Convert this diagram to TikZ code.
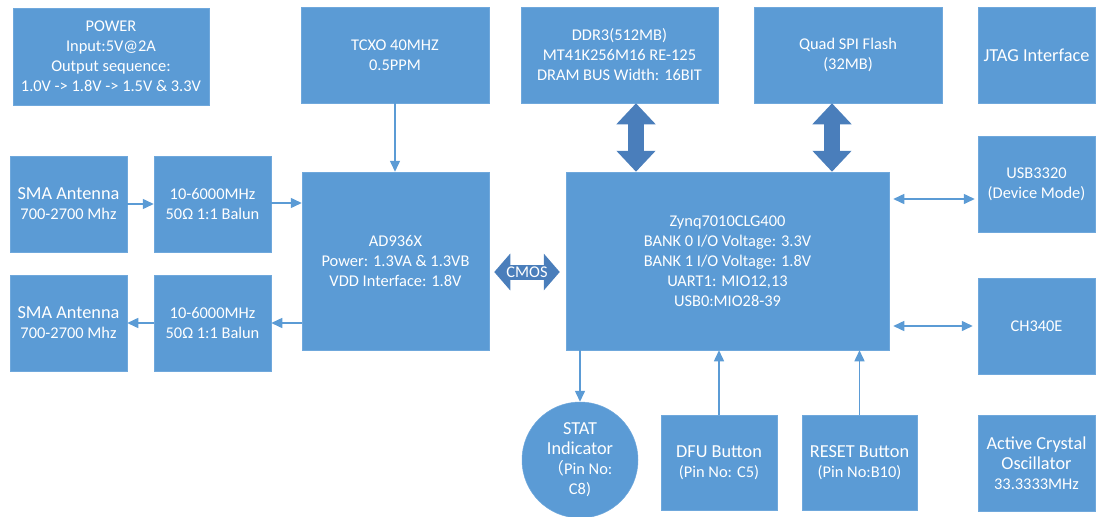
\documentclass[tikz,border=0pt]{standalone}
\usepackage{fontspec}
\setmainfont{Carlito}
\newfontfamily\cjk{Noto Sans CJK SC}
\usetikzlibrary{arrows.meta,calc}
\definecolor{boxblue}{HTML}{5B9BD5}
\definecolor{boxedge}{HTML}{6FA8DC}
\definecolor{thickblue}{HTML}{4A7EBB}
\newcommand\reg{\fontsize{16.4}{20}\selectfont}
\newcommand\lrg{\fontsize{18.3}{20}\selectfont}
\tikzset{
  box/.style={fill=boxblue, draw=boxedge, line width=0.5pt, text=white, align=center,
              inner sep=0pt, font=\reg},
  thin/.style={draw=boxblue, line width=1.5pt,
               -{Triangle[length=11pt,width=10pt]}},
  thinboth/.style={draw=boxblue, line width=1.5pt,
               {Triangle[length=11pt,width=10pt]}-{Triangle[length=11pt,width=10pt]}},
  fat/.style={draw=thickblue, line width=16pt,
               {Triangle[length=21pt,width=38pt]}-{Triangle[length=21pt,width=38pt]}},
}
\begin{document}
\begin{tikzpicture}[x=1pt,y=-1pt]
\useasboundingbox (0,0) rectangle (1096,517);
% top row
\node[box, minimum width=196pt, minimum height=97pt] (power) at (111,56.5)
  {POWER\\Input:5V@2A\\Output sequence:\\1.0V -> 1.8V -> 1.5V \& 3.3V};
\node[box, minimum width=188pt, minimum height=96pt] (tcxo) at (395,55)
  {TCXO 40MHZ\\0.5PPM};
\node[box, minimum width=197pt, minimum height=96pt] (ddr) at (619.5,55)
  {DDR3(512MB)\\MT41K256M16 RE-125\\DRAM BUS Width: 16BIT};
\node[box, minimum width=188pt, minimum height=96pt] (qspi) at (848,55)
  {Quad SPI Flash\\(32MB)};
\node[box, minimum width=117pt, minimum height=96pt, font=\lrg] (jtag) at (1036.5,55)
  {JTAG Interface};
% left column
\node[box, minimum width=117pt, minimum height=96pt, font=\lrg] (sma1) at (68.5,204)
  {SMA Antenna\\{\reg 700-2700 Mhz}};
\node[box, minimum width=117pt, minimum height=96pt] (balun1) at (212.5,204)
  {10-6000MHz\\50Ω 1:1 Balun};
\node[box, minimum width=117pt, minimum height=96pt, font=\lrg] (sma2) at (68.5,323)
  {SMA Antenna\\{\reg 700-2700 Mhz}};
\node[box, minimum width=117pt, minimum height=96pt] (balun2) at (212.5,323)
  {10-6000MHz\\50Ω 1:1 Balun};
% center
\node[box, minimum width=187pt, minimum height=178pt] (ad) at (395.5,261)
  {AD936X\\Power: 1.3VA \& 1.3VB\\VDD Interface: 1.8V};
\node[box, minimum width=323pt, minimum height=178pt] (zynq) at (727.5,261)
  {Zynq7010CLG400\\BANK 0 I/O Voltage: 3.3V\\BANK 1 I/O Voltage: 1.8V\\UART1: MIO12,13\\USB0:MIO28-39};
% right column
\node[box, minimum width=117pt, minimum height=96pt] (usb) at (1036.5,184)
  {USB3320\\(Device Mode)};
\node[box, minimum width=117pt, minimum height=96pt] (ch) at (1036.5,326)
  {CH340E};
\node[box, minimum width=117pt, minimum height=96pt, font=\lrg] (osc) at (1036.5,463)
  {Active Crystal\\Oscillator\\{\reg 33.3333MHz}};
% bottom
\node[box, circle, minimum size=116pt, font=\lrg] (stat) at (580,460)
  {STAT\\Indicator\\{\reg{\cjk （}Pin No:}\\{\reg C8)}};
\node[box, minimum width=116pt, minimum height=95pt, font=\lrg] (dfu) at (719,462.5)
  {DFU Button\\{\reg (Pin No: C5)}};
\node[box, minimum width=115pt, minimum height=95pt, font=\lrg] (reset) at (859.5,462.5)
  {RESET Button\\{\reg (Pin No:B10)}};
% connectors
\draw[thin] (sma1.east) -- (balun1.west);
\draw[thin] ([yshift=1pt]balun1.east) -- ([yshift=1pt]balun1.east -| ad.west);
\draw[thin] (balun2.east -| ad.west) -- (balun2.east);
\draw[thin] (balun2.west) -- (sma2.east);
\draw[thin] (tcxo.south) -- (tcxo.south |- ad.north);
\draw[thinboth] ([xshift=4pt,yshift=-15pt]usb.west -| zynq.east) -- ([xshift=-3pt,yshift=-15pt]usb.west);
\draw[thinboth] ([xshift=4pt]ch.west -| zynq.east) -- ([xshift=-5pt]ch.west);
\draw[thin] (stat.north |- zynq.south) -- (stat.north);
\draw[thin] (dfu.north) -- (dfu.north |- zynq.south);
\draw[thin] (reset.north) -- (reset.north |- zynq.south);
\draw[fat] ([xshift=16.5pt]ddr.south) -- ([xshift=16.5pt]ddr.south |- zynq.north);
\draw[fat] ([xshift=-16pt]qspi.south) -- ([xshift=-16pt]qspi.south |- zynq.north);
\draw[draw=thickblue, line width=15pt,
      {Triangle[length=16pt,width=36pt]}-{Triangle[length=16pt,width=36pt]}]
  ([xshift=5pt,yshift=-11pt]ad.east) -- ([xshift=-6pt,yshift=-11pt]zynq.west)
  node[midway, text=white, font=\reg] (cmos) {CMOS};
\end{tikzpicture}
\end{document}
